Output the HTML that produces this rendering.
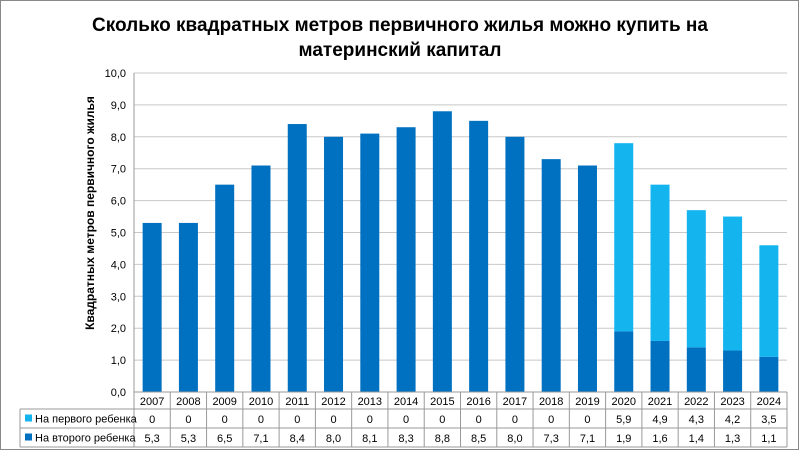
<!DOCTYPE html>
<html><head><meta charset="utf-8"><style>
body{margin:0;background:#fff}
#c{position:relative;width:800px;height:452px;font-family:"Liberation Sans",sans-serif}
</style></head><body>
<div id="c">
<svg id="s" width="800" height="452" xmlns="http://www.w3.org/2000/svg" font-family="Liberation Sans, sans-serif">
<rect x="0.5" y="0.5" width="798" height="449" fill="#fff" stroke="#888"/>
<text x="400" y="31" text-anchor="middle" font-size="19" font-weight="bold">Сколько квадратных метров первичного жилья можно купить на</text>
<text x="400" y="56" text-anchor="middle" font-size="19" font-weight="bold">материнский капитал</text>
<text transform="translate(94,213) rotate(-90)" text-anchor="middle" font-size="12" font-weight="bold">Квадратных метров первичного жилья</text>
<g id="g"></g>
</svg>
</div>
<script>
const years=["2007","2008","2009","2010","2011","2012","2013","2014","2015","2016","2017","2018","2019","2020","2021","2022","2023","2024"];
const first=[0,0,0,0,0,0,0,0,0,0,0,0,0,5.9,4.9,4.3,4.2,3.5];
const second=[5.3,5.3,6.5,7.1,8.4,8.0,8.1,8.3,8.8,8.5,8.0,7.3,7.1,1.9,1.6,1.4,1.3,1.1];
const yTicks=[0,1,2,3,4,5,6,7,8,9,10];
const seriesNames=["На первого ребенка","На второго ребенка"];
const NS="http://www.w3.org/2000/svg";
const g=document.getElementById('g');
const L=134,R=787,T=73,B=392,yMax=10;
const bw=(R-L)/years.length;
function y(v){return B-(v/yMax)*(B-T);}
function x(i){return L+i*bw;}
function mk(t,a,txt){const e=document.createElementNS(NS,t);for(const k in a)e.setAttribute(k,a[k]);if(txt!==undefined)e.textContent=txt;g.appendChild(e);return e;}
yTicks.forEach(v=>{
 const l=mk('line',{x1:L,x2:R,y1:y(v),y2:y(v),stroke:'#c8c8c8','stroke-width':1});
 
 
 const t=mk('text',{x:L-8,y:y(v)+4,'text-anchor':'end','font-size':11},v.toFixed(1).replace('.',','));
 
 
});
mk('line',{x1:L,x2:L,y1:T,y2:B,stroke:'#999'});
const rows=[B,409,428,447];
years.forEach((yr,i)=>{
 const cx=x(i)+bw/2,w=19;
 const b2=mk('rect',{x:cx-w/2,y:y(second[i]),width:w,height:B-y(second[i]),fill:'#0070c0'});
 
 
 if(first[i]>0){
  const b1=mk('rect',{x:cx-w/2,y:y(second[i]+first[i]),width:w,height:y(second[i])-y(second[i]+first[i]),fill:'#14b4ef'});
  
  
 }
 const t=mk('text',{x:cx,y:405,'text-anchor':'middle','font-size':11},yr);
 
 
 const a=mk('text',{x:cx,y:423,'text-anchor':'middle','font-size':11},String(first[i]).replace('.',','));
 
 
 const b=mk('text',{x:cx,y:442,'text-anchor':'middle','font-size':11},second[i].toFixed(1).replace('.',','));
 
 
});
// table grid
for(let i=0;i<=years.length;i++)mk('line',{x1:x(i),x2:x(i),y1:B,y2:447,stroke:'#999'});
mk('line',{x1:L,x2:R,y1:B,y2:B,stroke:'#999'});
[409,428,447].forEach(r=>mk('line',{x1:20,x2:R,y1:r,y2:r,stroke:'#999'}));
mk('line',{x1:20,x2:20,y1:409,y2:447,stroke:'#999'});
const cols=['#14b4ef','#0070c0'];
seriesNames.forEach((n,k)=>{
 const sy=k?437.5:418.5;
 const s=mk('rect',{x:25,y:sy-4,width:7,height:7,fill:cols[k]});
 
 
 const t=mk('text',{x:35,y:sy+4,'font-size':11},n);
 
 
});
</script>
</body></html>
